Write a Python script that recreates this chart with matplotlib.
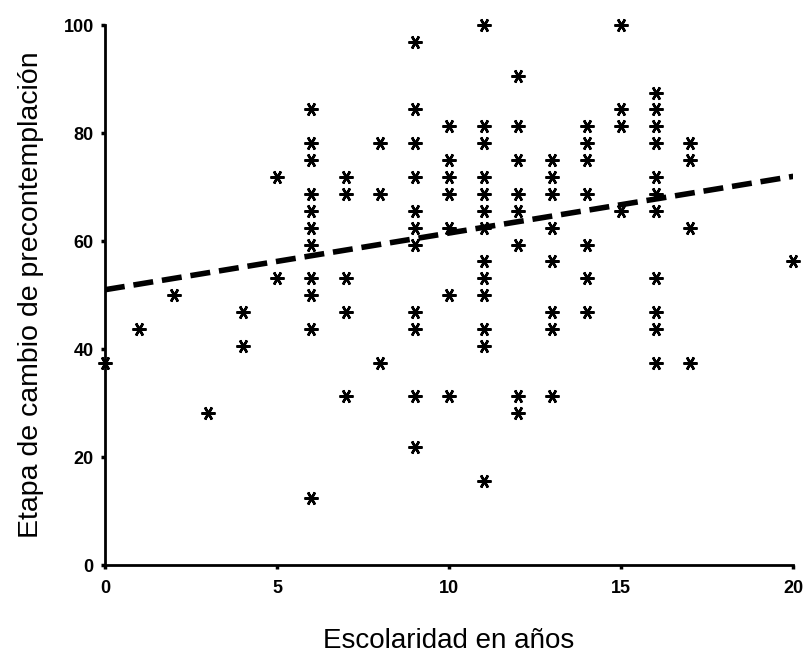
import numpy as np
import matplotlib
matplotlib.use('Agg')
import matplotlib.pyplot as plt

plt.rcParams['font.family'] = ['Liberation Sans', 'DejaVu Sans']

# escolaridad (years) and score per column
years = [0, 1, 2, 3, 4, 5, 6, 7, 8, 9, 10, 11, 12, 13, 14, 15, 16, 17, 20]
scores = [
    [37.5],
    [43.75],
    [50],
    [28.125],
    [46.875, 40.625],
    [71.875, 53.125],
    [84.375, 78.125, 75, 68.75, 65.625, 62.5, 59.375, 53.125, 50, 43.75, 12.5],
    [71.875, 68.75, 53.125, 46.875, 31.25],
    [78.125, 68.75, 37.5],
    [96.875, 84.375, 78.125, 71.875, 65.625, 62.5, 59.375, 46.875, 43.75, 31.25, 21.875],
    [81.25, 75, 71.875, 68.75, 62.5, 50, 31.25],
    [100, 81.25, 78.125, 71.875, 68.75, 65.625, 62.5, 56.25, 53.125, 50, 43.75, 40.625, 15.625],
    [90.625, 81.25, 75, 68.75, 65.625, 59.375, 31.25, 28.125],
    [75, 71.875, 68.75, 62.5, 56.25, 46.875, 43.75, 31.25],
    [81.25, 78.125, 75, 68.75, 59.375, 53.125, 46.875],
    [100, 84.375, 81.25, 65.625],
    [87.5, 84.375, 81.25, 78.125, 71.875, 68.75, 65.625, 53.125, 46.875, 43.75, 37.5],
    [78.125, 75, 62.5, 37.5],
    [56.25],
]

# trend line as drawn in the picture (ends at x=0 and x=20)
fit_x = [0, 20]
fit_y = [51, 72]

x = np.concatenate([[yr] * len(s) for yr, s in zip(years, scores)])
y = np.concatenate(scores)

fig = plt.figure(figsize=(8.07, 6.61), dpi=100)
ax = fig.add_axes([0.130, 0.145, 0.853, 0.817])

# 6-armed asterisk with a horizontal arm
ax.plot(x, y, linestyle='none', marker=(6, 2, 30), markersize=10,
        markeredgewidth=1.8, color='black', clip_on=False, zorder=3)
line, = ax.plot(fit_x, fit_y, color='black', linewidth=4,
                solid_capstyle='butt', dash_capstyle='butt', zorder=2)
line.set_dashes([3.6, 1.6])

ax.set_xlim(0, 20)
ax.set_ylim(0, 100)
ax.set_xticks([0, 5, 10, 15, 20])
ax.set_yticks([0, 20, 40, 60, 80, 100])

for s in ['top', 'right']:
    ax.spines[s].set_visible(False)
for s in ['left', 'bottom']:
    ax.spines[s].set_linewidth(2)

ax.tick_params(direction='out', length=3, width=2.5, labelsize=13, pad=5)
ax.tick_params(axis='x', pad=8)
for lab in ax.get_xticklabels() + ax.get_yticklabels():
    lab.set_fontweight('bold')

ax.set_xlabel('Escolaridad en años', fontsize=20, labelpad=22)
ax.set_ylabel('Etapa de cambio de precontemplación', fontsize=20.5, labelpad=14)

plt.savefig('out.png', dpi=100)
